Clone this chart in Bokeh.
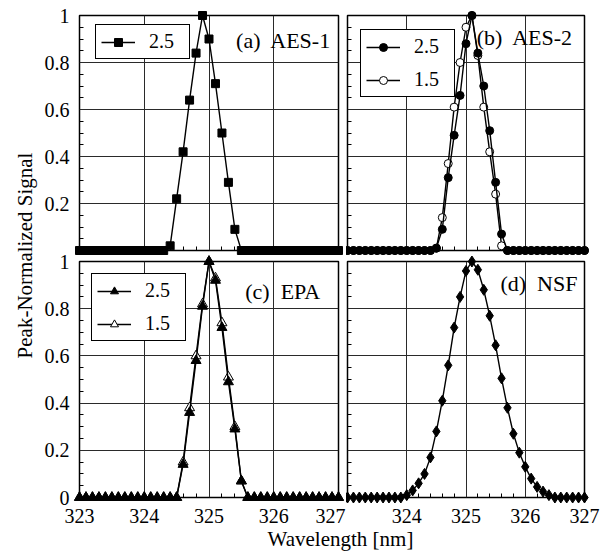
import math
from bokeh.plotting import figure
from bokeh.models import Range1d, FixedTicker, Legend, LegendItem, Label
from bokeh.core.properties import value
from bokeh.layouts import row, column
from bokeh.embed import file_html
from bokeh.resources import INLINE

# ---------------- data ----------------
WAVELENGTH = [
    323.0, 323.1, 323.2, 323.3, 323.4, 323.5, 323.6, 323.7, 323.8, 323.9,
    324.0, 324.1, 324.2, 324.3, 324.4, 324.5, 324.6, 324.7, 324.8, 324.9,
    325.0, 325.1, 325.2, 325.3, 325.4, 325.5, 325.6, 325.7, 325.8, 325.9,
    326.0, 326.1, 326.2, 326.3, 326.4, 326.5, 326.6, 326.7, 326.8, 326.9,
    327.0,
]

AES1_25 = [
    0, 0, 0, 0, 0, 0, 0, 0, 0, 0,
    0, 0, 0, 0, 0.02, 0.22, 0.42, 0.64, 0.84, 1.00,
    0.90, 0.71, 0.50, 0.29, 0.09, 0, 0, 0, 0, 0,
    0, 0, 0, 0, 0, 0, 0, 0, 0, 0,
    0,
]

AES2_25 = [
    0, 0, 0, 0, 0, 0, 0, 0, 0, 0,
    0, 0, 0, 0, 0, 0.01, 0.09, 0.31, 0.49, 0.66,
    0.88, 1.00, 0.84, 0.70, 0.51, 0.29, 0.07, 0, 0, 0,
    0, 0, 0, 0, 0, 0, 0, 0, 0, 0,
    0,
]

AES2_15 = [
    0, 0, 0, 0, 0, 0, 0, 0, 0, 0,
    0, 0, 0, 0, 0, 0.01, 0.14, 0.37, 0.61, 0.80,
    0.95, 1.00, 0.83, 0.61, 0.42, 0.24, 0.02, 0, 0, 0,
    0, 0, 0, 0, 0, 0, 0, 0, 0, 0,
    0,
]

EPA_25 = [
    0, 0, 0, 0, 0, 0, 0, 0, 0, 0,
    0, 0, 0, 0, 0, 0, 0.14, 0.36, 0.58, 0.81,
    1.00, 0.92, 0.72, 0.49, 0.29, 0.07, 0, 0, 0, 0,
    0, 0, 0, 0, 0, 0, 0, 0, 0, 0,
    0,
]

EPA_15 = [
    0, 0, 0, 0, 0, 0, 0, 0, 0, 0,
    0, 0, 0, 0, 0, 0, 0.15, 0.38, 0.60, 0.82,
    1.00, 0.93, 0.74, 0.51, 0.30, 0.07, 0, 0, 0, 0,
    0, 0, 0, 0, 0, 0, 0, 0, 0, 0,
    0,
]

NSF = [
    0, 0, 0, 0, 0, 0, 0, 0, 0, 0,
    0.01, 0.03, 0.06, 0.10, 0.17, 0.28, 0.41, 0.56, 0.72, 0.85,
    0.96, 1.00, 0.965, 0.88, 0.77, 0.645, 0.505, 0.38, 0.27, 0.19,
    0.13, 0.08, 0.045, 0.025, 0.01, 0, 0, 0, 0, 0,
    0,
]

SERIES_LABELS = ["2.5", "1.5"]
PANEL_TITLES = ["(a)\u00a0 AES-1", "(b)\u00a0 AES-2", "(c)\u00a0 EPA", "(d)\u00a0 NSF"]
X_TICKS_C = [323, 324, 325, 326]
X_LAST_C = [327]
X_TICKS_D = [324, 325, 326, 327]
Y_TICKS_A = [0.2, 0.4, 0.6, 0.8, 1]
Y_TICKS_C = [0, 0.2, 0.4, 0.6, 0.8, 1]
GRID_X = [324, 325, 326]
GRID_Y = [0.2, 0.4, 0.6, 0.8]
MINOR_X = [round(323 + 0.2 * i, 1) for i in range(1, 20) if i % 5 != 0]
MINOR_Y = [round(0.05 * i, 2) for i in range(1, 20) if i % 4 != 0]

SERIF = "Liberation Serif"
FS = "20px"
X_LABEL_OFFSET = 11


def make_panel(width, height, bl, br, bt, bb, yticks):
    p = figure(width=width, height=height, title=None,
               x_range=Range1d(323, 327), y_range=Range1d(0, 1),
               output_backend="svg", toolbar_location=None,
               min_border_left=bl, min_border_right=br,
               min_border_top=bt, min_border_bottom=bb)
    p.background_fill_color = "white"
    p.border_fill_color = None
    p.outline_line_color = "black"
    p.outline_line_width = 1.5
    for ax, ticks, minor in ((p.xaxis[0], [], MINOR_X), (p.yaxis[0], yticks, MINOR_Y)):
        ax.ticker = FixedTicker(ticks=ticks, minor_ticks=minor)
        ax.axis_line_color = None
        ax.major_tick_line_color = None
        ax.major_tick_in = 0
        ax.major_tick_out = 0
        ax.minor_tick_in = 4
        ax.minor_tick_out = 0
        ax.minor_tick_line_color = "black"
        ax.minor_tick_line_width = 1
        ax.major_label_standoff = 10 if ticks else 0
        ax.major_label_text_font = SERIF
        ax.major_label_text_font_size = FS
        ax.major_label_text_color = "black"
    p.xgrid[0].ticker = FixedTicker(ticks=GRID_X)
    p.ygrid[0].ticker = FixedTicker(ticks=GRID_Y)
    for g in (p.xgrid[0], p.ygrid[0]):
        g.grid_line_color = "#2a2a2a"
        g.grid_line_width = 1
    return p


def add_x_labels(p, ticks, align="center", x_offset=0):
    # wavelength tick labels, placed through the panel's x scale below the frame
    p.text(x=ticks, y=[0] * len(ticks), text=[str(v) for v in ticks],
           x_offset=x_offset, y_offset=X_LABEL_OFFSET,
           text_align=align, text_baseline="top", text_font=value(SERIF),
           text_font_size=value(FS), text_color="black", level="overlay")


def add_series(p, y, marker, size, filled):
    ln = p.line(WAVELENGTH, y, line_color="black", line_width=1.4, level="overlay")
    sc = p.scatter(WAVELENGTH, y, marker=marker, size=size,
                   fill_color="black" if filled else "white",
                   line_color="black", line_width=1, level="overlay")
    return [ln, sc]


def add_legend(p, items, vx, vy):
    leg = Legend(items=items, location=(vx, vy))
    leg.border_line_color = "black"
    leg.border_line_width = 1.5
    leg.border_line_alpha = 1
    leg.background_fill_color = "white"
    leg.background_fill_alpha = 1
    leg.label_text_font = SERIF
    leg.label_text_font_size = FS
    leg.label_text_color = "black"
    leg.padding = 5
    leg.spacing = 10
    leg.glyph_width = 34
    leg.glyph_height = 20
    leg.label_standoff = 14
    leg.label_width = 35
    leg.label_height = 20
    leg.margin = 0
    p.add_layout(leg)


def add_title(p, text, x, y, align):
    p.add_layout(Label(x=x, y=y, text=text, text_align=align, text_baseline="middle",
                       text_font=SERIF, text_font_size="22px", text_color="black"))


# ---------------- panels ----------------
pa = make_panel(308, 255, 41, 8, 15, 5, Y_TICKS_A)
pb = make_panel(254, 255, 1, 16, 15, 5, [])
pc = make_panel(308, 276, 41, 8, 10, 30, Y_TICKS_C)
pd = make_panel(254, 276, 1, 16, 10, 30, [])

# (a) AES-1
ra = add_series(pa, AES1_25, "square", 8, True)
add_legend(pa, [LegendItem(label=SERIES_LABELS[0], renderers=ra)], 16, 191)
add_title(pa, PANEL_TITLES[0], 326.89, 0.894, "right")

# (b) AES-2
rb15 = add_series(pb, AES2_15, "circle", 8, False)
rb25 = add_series(pb, AES2_25, "circle", 8, True)
add_legend(pb, [LegendItem(label=SERIES_LABELS[0], renderers=rb25),
                LegendItem(label=SERIES_LABELS[1], renderers=rb15)], 13, 153)
add_title(pb, PANEL_TITLES[1], 326.81, 0.906, "right")

# (c) EPA
rc15 = add_series(pc, EPA_15, "triangle", 10, False)
rc25 = add_series(pc, EPA_25, "triangle", 10, True)
add_legend(pc, [LegendItem(label=SERIES_LABELS[0], renderers=rc25),
                LegendItem(label=SERIES_LABELS[1], renderers=rc15)], 12, 156)
add_title(pc, PANEL_TITLES[2], 325.56, 0.873, "left")
add_x_labels(pc, X_TICKS_C)
add_x_labels(pc, X_LAST_C, align="right", x_offset=7)

# (d) NSF
add_series(pd, NSF, "diamond", 11, True)
add_title(pd, PANEL_TITLES[3], 326.88, 0.907, "right")
add_x_labels(pd, X_TICKS_D)

# ---------------- shared axis titles ----------------
ylab = figure(width=38, height=552, title=None, x_range=Range1d(0, 38), y_range=Range1d(0, 552),
              output_backend="svg", toolbar_location=None, min_border=0,
              x_axis_location=None, y_axis_location=None)
ylab.outline_line_color = None
ylab.background_fill_color = None
ylab.border_fill_color = None
ylab.grid.visible = False
ylab.add_layout(Label(x=24, y=297, text="Peak-Normalized Signal", angle=math.pi / 2,
                      text_align="center", text_baseline="middle",
                      text_font=SERIF, text_font_size="21px", text_color="black"))

xlab = figure(width=562, height=25, title=None, x_range=Range1d(0, 562), y_range=Range1d(0, 25),
              output_backend="svg", toolbar_location=None, min_border=0,
              x_axis_location=None, y_axis_location=None)
xlab.outline_line_color = None
xlab.background_fill_color = None
xlab.border_fill_color = None
xlab.grid.visible = False
xlab.add_layout(Label(x=302, y=14, text="Wavelength [nm]",
                      text_align="center", text_baseline="middle",
                      text_font=SERIF, text_font_size="21px", text_color="black"))

top_row = row(pa, pb)
# the lower row overlaps the upper one by a few transparent pixels so the "1" label fits
bottom_row = row(pc, pd, margin=(-4, 0, 0, 0))
layout = row(ylab, column(top_row, bottom_row, xlab))

open("out.html", "w").write(file_html(layout, INLINE))
